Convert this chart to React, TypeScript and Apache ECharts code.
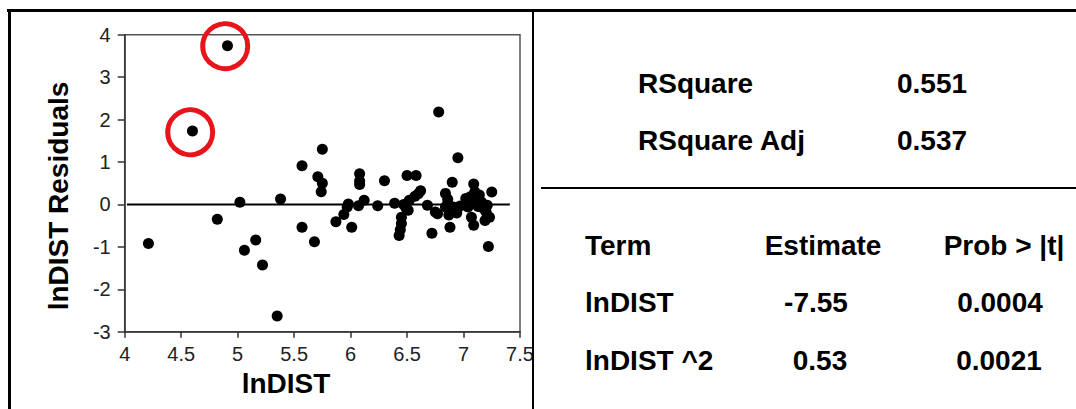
import React, { useEffect, useRef } from "react";
import * as echarts from "echarts";

const xTicks = { min: 4, max: 7.5, interval: 0.5 };
const yTicks = { min: -3, max: 4, interval: 1 };

const residualPoints: number[][] = [
  [4.21, -0.92], [4.6, 1.73], [4.91, 3.74], [4.82, -0.35], [5.02, 0.05],
  [5.06, -1.08], [5.16, -0.84], [5.22, -1.43], [5.38, 0.13], [5.35, -2.63],
  [5.57, 0.91], [5.57, -0.54], [5.68, -0.88], [5.75, 1.3], [5.71, 0.65],
  [5.75, 0.5], [5.74, 0.3], [5.87, -0.41], [5.94, -0.24], [5.97, -0.06],
  [5.98, 0.01], [6.01, -0.54], [6.08, 0.72], [6.08, 0.55], [6.08, 0.47],
  [6.07, -0.03], [6.12, 0.1], [6.24, -0.03], [6.3, 0.56], [6.39, 0.03],
  [6.45, -0.3], [6.45, -0.45], [6.44, -0.6], [6.43, -0.73], [6.5, 0.68],
  [6.58, 0.68], [6.49, -0.08], [6.52, 0.1], [6.57, 0.19], [6.62, 0.32],
  [6.6, 0.25], [6.51, -0.14], [6.47, 0.0], [6.68, -0.02], [6.72, -0.68],
  [6.77, -0.22], [6.75, -0.18], [6.78, 2.18], [6.84, 0.26], [6.86, 0.02],
  [6.88, -0.54], [6.9, 0.52], [6.91, -0.13], [6.95, 1.1], [6.84, -0.06],
  [6.86, 0.12], [6.87, -0.25], [6.94, -0.2], [6.91, -0.06], [6.97, -0.04],
  [7.02, 0.14], [7.06, 0.18], [7.09, 0.48], [7.12, 0.13], [7.04, -0.06],
  [7.07, -0.3], [7.09, -0.49], [7.1, 0.3], [7.08, 0.02], [7.14, 0.22],
  [7.16, 0.05], [7.2, -0.18], [7.19, -0.38], [7.23, -0.3], [7.21, -0.02],
  [7.25, 0.29], [7.22, -0.99], [7.18, -0.1], [7.13, -0.05],
];

const zeroLine: number[][] = [[4.02, 0], [7.41, 0]];
const highlighted: number[][] = [[4.58, 1.7], [4.89, 3.73]];

const xTitle = "lnDIST";
const yTitle = "lnDIST Residuals";

const fitLabels = ["RSquare", "RSquare Adj"];
const fitValues = ["0.551", "0.537"];

const tableHeader = ["Term", "Estimate", "Prob > |t|"];
const termNames = ["lnDIST", "lnDIST ^2"];
const estimates = ["-7.55", "0.53"];
const probs = ["0.0004", "0.0021"];

const FONT = "'Liberation Sans', Arial, Helvetica, sans-serif";

export default function App() {
  const ref = useRef<HTMLDivElement>(null);
  useEffect(() => {
    document.body.style.margin = "0";
    const chart = echarts.init(ref.current!, null, { renderer: "svg" });
    const bold = { fontFamily: FONT, fontWeight: "bold", fontSize: 28, fill: "#000" };
    const graphics: any[] = [
      { type: "rect", shape: { x: 7, y: 9, width: 1069, height: 3 }, style: { fill: "#000" }, z: 100 },
      { type: "rect", shape: { x: 8, y: 9, width: 3, height: 400 }, style: { fill: "#000" }, z: 100 },
      { type: "rect", shape: { x: 534, y: 338, width: 10, height: 40 }, style: { fill: "#fff" }, z: 99 },
      { type: "rect", shape: { x: 532, y: 9, width: 2, height: 400 }, style: { fill: "#000" }, z: 100 },
      { type: "rect", shape: { x: 541, y: 187, width: 535, height: 2 }, style: { fill: "#000" }, z: 100 },
      {
        type: "text", x: 286, y: 383,
        style: { ...bold, text: xTitle, textAlign: "center", textVerticalAlign: "middle" },
      },
      {
        type: "text", x: 58, y: 196, rotation: Math.PI / 2,
        style: { ...bold, text: yTitle, textAlign: "center", textVerticalAlign: "middle" },
      },
    ];
    const fitY = [83, 140];
    fitLabels.forEach((t, i) => {
      graphics.push({ type: "text", x: 638, y: fitY[i], style: { ...bold, text: t, textAlign: "left", textVerticalAlign: "middle" } });
      graphics.push({ type: "text", x: 897, y: fitY[i], style: { ...bold, text: fitValues[i], textAlign: "left", textVerticalAlign: "middle" } });
    });
    graphics.push({ type: "text", x: 585, y: 245, style: { ...bold, text: tableHeader[0], textAlign: "left", textVerticalAlign: "middle" } });
    graphics.push({ type: "text", x: 823, y: 245, style: { ...bold, text: tableHeader[1], textAlign: "center", textVerticalAlign: "middle" } });
    graphics.push({ type: "text", x: 1004, y: 245, style: { ...bold, text: tableHeader[2], textAlign: "center", textVerticalAlign: "middle" } });
    const rowY = [302, 360];
    const estX = [816, 820];
    const probX = [1000, 999];
    termNames.forEach((t, i) => {
      graphics.push({ type: "text", x: 585, y: rowY[i], style: { ...bold, text: t, textAlign: "left", textVerticalAlign: "middle" } });
      graphics.push({ type: "text", x: estX[i], y: rowY[i], style: { ...bold, text: estimates[i], textAlign: "center", textVerticalAlign: "middle" } });
      graphics.push({ type: "text", x: probX[i], y: rowY[i], style: { ...bold, text: probs[i], textAlign: "center", textVerticalAlign: "middle" } });
    });

    chart.setOption({
      animation: false,
      backgroundColor: "#fff",
      grid: {
        left: 124.7, top: 34.7, right: 556, bottom: 77.3,
        show: true, borderColor: "#555", borderWidth: 1.5, backgroundColor: "transparent",
      },
      xAxis: {
        type: "value", min: xTicks.min, max: xTicks.max, interval: xTicks.interval,
        axisLine: { show: true, onZero: false, lineStyle: { color: "#333", width: 1.5 } },
        axisTick: { show: true, length: 6, lineStyle: { color: "#333", width: 1.5 } },
        axisLabel: { color: "#222", fontSize: 20, fontFamily: FONT, margin: 12, showMaxLabel: true, showMinLabel: true },
        splitLine: { show: false },
      },
      yAxis: {
        type: "value", min: yTicks.min, max: yTicks.max, interval: yTicks.interval,
        axisLine: { show: true, onZero: false, lineStyle: { color: "#333", width: 1.5 } },
        axisTick: { show: true, length: 7, lineStyle: { color: "#333", width: 1.5 } },
        axisLabel: { color: "#222", fontSize: 20, fontFamily: FONT, margin: 14 },
        splitLine: { show: false },
      },
      series: [
        {
          type: "line", data: zeroLine, symbol: "none", z: 1,
          lineStyle: { color: "#000", width: 2 }, silent: true,
        },
        {
          type: "scatter", data: residualPoints, symbol: "circle", symbolSize: 11, z: 2,
          itemStyle: { color: "#000", opacity: 1 },
        },
        {
          type: "scatter", data: highlighted, symbol: "circle", symbolSize: 45, z: 3,
          itemStyle: { color: "rgba(0,0,0,0)", borderColor: "#e8141b", borderWidth: 5, opacity: 1 },
        },
      ],
      graphic: graphics,
    });
    return () => chart.dispose();
  }, []);
  return <div ref={ref} style={{ position: "fixed", left: 0, top: 0, width: 1076, height: 409 }} />;
}
